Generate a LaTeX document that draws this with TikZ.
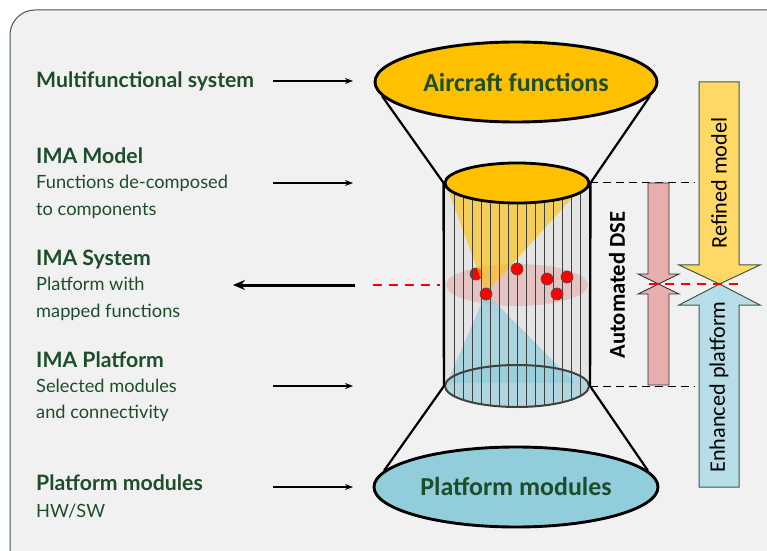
\documentclass[tikz,border=0pt]{standalone}
\usepackage{fontspec}
\setmainfont{Lato}
\newfontfamily\calib{Carlito}
\usetikzlibrary{arrows.meta,shapes.geometric}
\definecolor{txtgreen}{HTML}{1E4D2B}
\definecolor{framegreen}{HTML}{3E5E45}
\definecolor{panel}{HTML}{F1F1F1}
\definecolor{amber}{HTML}{FFC000}
\definecolor{skyblue}{HTML}{92CDDC}
\definecolor{bodygray}{HTML}{E4E4E4}
\definecolor{rosefill}{HTML}{E8ADAD}
\definecolor{paleyellow}{HTML}{FFD966}
\definecolor{paleblue}{HTML}{B7DEE8}
\definecolor{arrowedge}{HTML}{3C5A48}
\tikzset{
  head/.style={anchor=base west, font=\fontsize{21.3}{24}\selectfont\bfseries, text=txtgreen, inner sep=0pt},
  sub/.style={anchor=base west, font=\fontsize{18.3}{22}\selectfont, text=txtgreen, inner sep=0pt},
  pointer/.style={-{Stealth[length=8bp,width=6bp]}, line width=1.3bp},
  bigdisc/.style={ellipse, draw=black, line width=2.9bp, inner sep=0pt,
    font=\calib\fontsize{26}{29}\selectfont\bfseries, text=txtgreen},
  dot/.style={circle, fill=red, draw=black!70, line width=0.7bp, minimum size=12bp, inner sep=0pt},
  guide/.style={draw=black, dash pattern=on 8bp off 5bp, line width=1bp},
  redguide/.style={draw=red, dash pattern=on 9bp off 7bp, line width=1.1bp},
  fatarrow/.style={draw=arrowedge, line width=1bp},
  cone/.style={line width=2.2bp},
  arrowtext/.style={rotate=90, font=\calib\fontsize{22.3}{25}\selectfont, inner sep=0pt}
}
\begin{document}
\begin{tikzpicture}[x=1bp,y=-1bp]
\useasboundingbox (0,0) rectangle (767,551);
% panel
\begin{scope}
  \clip (0,0) rectangle (767,551);
  \fill[white] (0,0) rectangle (767,551);
  \draw[framegreen, fill=panel, line width=1bp, rounded corners=25bp] (10,10) rectangle (800,590);
\end{scope}

% left-hand labels
\node[head] (l1) at (36,88) {Multifunctional system};
\node[head] (l2) at (36,164) {IMA Model};
\node[sub]  (l2a) at (36,189) {Functions de-composed};
\node[sub]  (l2b) at (36,216) {to components};
\node[head] (l3) at (36,266) {IMA System};
\node[sub]  (l3a) at (36,291) {Platform with};
\node[sub]  (l3b) at (36,317) {mapped functions};
\node[head] (l4) at (36,367) {IMA Platform};
\node[sub]  (l4a) at (36,392) {Selected modules};
\node[sub]  (l4b) at (36,418) {and connectivity};
\node[head] (l5) at (36,490) {Platform modules};
\node[sub]  (l5a) at (36,517) {HW/SW};

% top and bottom discs
\node[bigdisc, fill=amber, minimum width=282bp, minimum height=80bp] (af) at (516,82) {Aircraft functions};
\node[bigdisc, fill=skyblue, minimum width=284bp, minimum height=80bp] (pm) at (516,487) {Platform modules};

% cylinder body
\fill[bodygray] (445,183) rectangle (589,386);
\fill[bodygray] (517,386) ellipse [x radius=72, y radius=21];
\fill[rosefill, opacity=0.6] (517,285) ellipse [x radius=71, y radius=21];
\node[dot] (d1) at (476,274) {};
\fill[amber, opacity=0.6] (448,190) -- (573,197) -- (486,293) -- cycle;
\fill[skyblue, opacity=0.7] (486,293) -- (447,383) -- (575,383) -- cycle;
\node[ellipse, fill=skyblue, fill opacity=0.6, draw=black!75, line width=2bp,
      minimum width=144bp, minimum height=42bp, inner sep=0pt] (cb) at (517,386) {};
\foreach \k in {1,...,15} {
  \pgfmathsetmacro\xx{445+9*\k}
  \pgfmathsetmacro\dd{sqrt(1-((\xx-517)/72)^2)}
  \draw[black!75, line width=0.6bp] (\xx,{183+20*\dd}) -- (\xx,{386+21*\dd});
}
\node[dot] (d2) at (517,269) {};
\node[dot] (d3) at (547,279) {};
\node[dot] (d4) at (567,277) {};
\node[dot] (d5) at (557,294) {};
\node[dot] (d6) at (486,294) {};
\node[ellipse, fill=amber, draw=black, line width=2.8bp,
      minimum width=144bp, minimum height=40bp, inner sep=0pt] (ct) at (517,183) {};
\draw[line width=2.4bp] (ct.west) -- (cb.west);
\draw[line width=2.4bp] (ct.east) -- (cb.east);

% cone outlines
\draw[cone] (af.186) -- (ct.west);
\draw[cone] (af.354) -- (ct.east);
\draw[cone] (cb.west) -- (pm.173);
\draw[cone] (cb.east) -- (pm.7);

% label pointers
\coordinate (p1s) at (273,81);  \coordinate (p1e) at (353,81);
\coordinate (p2s) at (273,183); \coordinate (p2e) at (353,183);
\coordinate (p4s) at (273,386); \coordinate (p4e) at (353,386);
\coordinate (p5s) at (273,487); \coordinate (p5e) at (353,487);
\coordinate (p3s) at (355,285); \coordinate (p3e) at (233,285);
\draw[pointer] (p1s) -- (p1e);
\draw[pointer] (p2s) -- (p2e);
\draw[pointer] (p4s) -- (p4e);
\draw[pointer] (p5s) -- (p5e);
\draw[-{Stealth[length=12bp,width=10bp]}, line width=3bp] (p3s) -- (p3e);

% level guides
\coordinate (g1) at (695,183);
\coordinate (g2) at (695,386);
\draw[guide] (ct.east) -- (g1);
\draw[guide] (cb.east) -- (g2);
\coordinate (r1s) at (373,285); \coordinate (r1e) at (440,285);
\coordinate (r2s) at (649,284); \coordinate (r2e) at (740,284);
\draw[redguide] (r1s) -- (r1e);

% design space exploration double arrow
\filldraw[fill=rosefill, draw=black!80, line width=0.9bp]
  (648,183) -- (669,183) -- (669,274) -- (679,274) -- (658.5,284) -- (638,274) -- (648,274) -- cycle;
\filldraw[fill=rosefill, draw=black!80, line width=0.9bp]
  (648,385) -- (669,385) -- (669,294) -- (679,294) -- (658.5,284) -- (638,294) -- (648,294) -- cycle;
\node[rotate=90, font=\calib\fontsize{22.7}{26}\selectfont\bfseries, inner sep=0pt] (dse) at (617,285) {Automated DSE};

% refinement arrows
\filldraw[fatarrow, fill=paleyellow]
  (699,82) -- (739,82) -- (739,265) -- (760,265) -- (719.5,284) -- (679,265) -- (699,265) -- cycle;
\filldraw[fatarrow, fill=paleblue]
  (699,487) -- (739,487) -- (739,305) -- (760,305) -- (719.5,284) -- (679,305) -- (699,305) -- cycle;
\node[arrowtext] (rm) at (719,183) {Refined model};
\node[arrowtext] (ep) at (719,387) {Enhanced platform};
\draw[redguide] (r2s) -- (r2e);
\end{tikzpicture}
\end{document}
